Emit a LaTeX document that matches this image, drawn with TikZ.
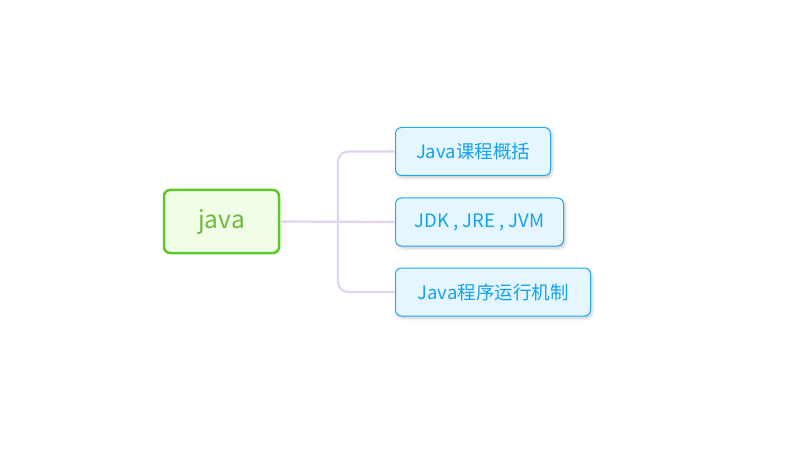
\documentclass[tikz,border=0pt]{standalone}
\usepackage{fontspec}
\setmainfont{Noto Sans CJK SC}
\usetikzlibrary{shadows.blur}
\definecolor{rootborder}{HTML}{5CC82A}
\definecolor{rootfill}{HTML}{F1FDE7}
\definecolor{roottext}{HTML}{6CBB3C}
\definecolor{kidborder}{HTML}{22A9F2}
\definecolor{kidfill}{HTML}{E6F6FE}
\definecolor{kidtext}{HTML}{13A2F0}
\definecolor{linkcol}{HTML}{E2D3F2}
\tikzset{
  rootbox/.style={draw=rootborder, line width=2.5pt, fill=rootfill, rounded corners=6pt,
    minimum width=115pt, minimum height=63pt, inner sep=0pt, text=roottext,
    font=\fontsize{24.5}{28}\selectfont},
  kidbox/.style={draw=kidborder, line width=1pt, fill=kidfill, rounded corners=6pt,
    minimum height=48pt, inner sep=0pt, text=kidtext, anchor=west,
    font=\fontsize{18.5}{22}\selectfont,
    blur shadow={shadow xshift=1.5pt, shadow yshift=-2pt, shadow blur radius=3pt, shadow opacity=22}},
  link/.style={draw=linkcol, line width=2.2pt, rounded corners=10pt}
}
\begin{document}
\begin{tikzpicture}[x=1pt,y=-1pt]
\useasboundingbox (0,0) rectangle (786,454);
\node[rootbox] (java) at (221.5,221.5) {java};
\coordinate (fork) at (338,221.5);
\node[kidbox, minimum width=155pt] (b1) at (395,151.5) {Java课程概括};
\node[kidbox, minimum width=168pt] (b2) at (395,222) {JDK , JRE , JVM};
\node[kidbox, minimum width=195pt] (b3) at (395,292) {Java程序运行机制};
\draw[link] (java.east) -- (b2.west);
\draw[link] (fork) |- (b1.west);
\draw[link] (fork) |- (b3.west);
\end{tikzpicture}
\end{document}
